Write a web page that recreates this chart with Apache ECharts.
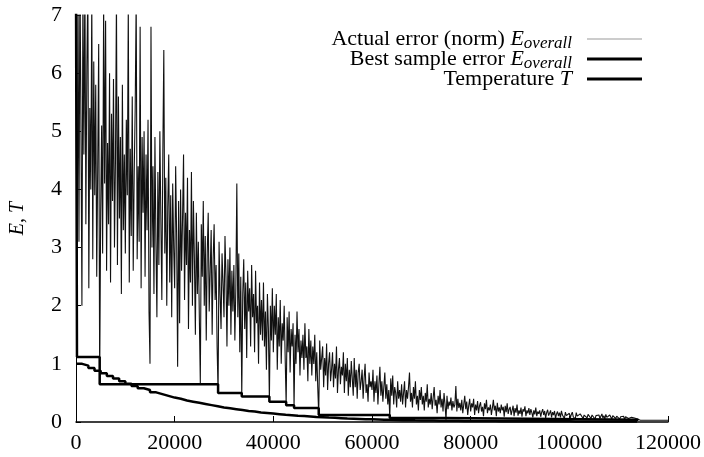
<!DOCTYPE html>
<html>
<head>
<meta charset="utf-8">
<script src="https://cdn.jsdelivr.net/npm/echarts@6/dist/echarts.min.js"></script>
<style>html,body{margin:0;padding:0;background:#fff}#c{width:704px;height:457px}</style>
</head>
<body>
<div id="c"></div>
<script>
// tick labels
const xTicks = [0, 20000, 40000, 60000, 80000, 100000, 120000];
const yTicks = [0, 1, 2, 3, 4, 5, 6, 7];

// Actual error (norm), one sample every 200 iterations starting at 0
const actualStep = 200;
const actualErr = [
  7.6, 1.12, 7.5, 3.1, 7.8, 5.2, 2.0, 7.4, 4.6, 7.7,
  3.4, 6.1, 7.5, 2.3, 5.4, 4.0, 7.3, 2.8, 6.2, 3.9,
  5.8, 2.5, 4.4, 6.5, 0.65, 3.6, 5.1, 2.9, 7.2, 4.1,
  6.9, 2.6, 4.8, 3.4, 6.0, 2.4, 5.3, 3.8, 5.9, 3.0,
  4.5, 7.3, 2.7, 5.6, 3.5, 4.9, 2.2, 5.8, 3.3, 4.6,
  2.9, 5.2, 3.9, 7.2, 2.4, 4.7, 3.2, 5.6, 2.6, 4.3,
  5.4, 7.3, 2.8, 4.4, 3.1, 6.8, 2.3, 4.9, 3.6, 5.0,
  2.5, 4.6, 3.3, 5.2, 1.9, 1.0, 6.8, 3.0, 4.4, 2.2,
  4.9, 3.1, 1.8, 4.3, 2.7, 5.0, 3.5, 2.1, 4.6, 6.4,
  2.9, 4.2, 2.0, 3.7, 4.6, 2.4, 3.9, 1.8, 4.1, 3.0,
  2.3, 4.4, 3.2, 0.95, 3.8, 1.7, 4.0, 2.6, 3.5, 4.6,
  2.1, 3.6, 2.7, 4.2, 1.6, 3.3, 2.4, 4.3, 2.0, 3.8,
  2.8, 1.5, 3.6, 2.2, 3.1, 1.8, 0.66, 3.4, 2.5, 3.8,
  2.0, 3.2, 1.4, 2.9, 3.6, 1.9, 2.6, 3.3, 1.5, 2.8,
  3.4, 2.1, 2.7, 1.3, 0.5, 3.1, 2.2, 1.6, 2.9, 2.4,
  1.8, 3.2, 2.5, 1.3, 2.8, 2.0, 3.0, 1.5, 2.6, 1.9,
  2.7, 1.4, 2.3, 4.1, 1.8, 2.9, 1.2, 2.5, 0.44, 2.2,
  2.8, 1.6, 2.4, 1.1, 2.6, 1.9, 2.3, 1.3, 2.7, 1.8,
  2.2, 1.2, 2.6, 1.7, 2.0, 1.0, 2.4, 1.5, 2.1, 1.4,
  2.4, 1.3, 1.9, 0.9, 2.2, 1.6, 0.35, 2.0, 1.4, 2.3,
  1.2, 2.0, 1.5, 2.2, 0.9, 1.8, 1.3, 2.1, 1.0, 1.7,
  1.4, 2.0, 1.1, 0.29, 1.8, 1.2, 1.9, 0.85, 1.6, 1.3,
  1.7, 0.24, 1.5, 1.0, 1.9, 1.2, 1.6, 0.8, 1.4, 1.1,
  1.5, 0.9, 1.7, 1.1, 1.3, 0.7, 1.6, 1.0, 1.4, 0.8,
  1.3, 1.0, 1.5, 0.7, 1.2, 0.6, 0.12, 1.4, 0.9, 1.1,
  1.3, 0.6, 1.1, 0.8, 1.35, 0.55, 1.0, 1.2, 0.7, 0.9,
  1.2, 0.6, 1.0, 0.75, 1.3, 0.5, 0.9, 1.1, 0.65, 0.95,
  0.8, 1.2, 0.5, 1.0, 0.7, 1.1, 0.45, 0.9, 0.6, 1.05,
  0.75, 0.45, 1.1, 0.6, 0.9, 0.4, 0.85, 1.0, 0.55, 0.7,
  0.9, 0.4, 0.75, 1.0, 0.5, 0.65, 0.35, 0.85, 0.6, 0.7,
  0.55, 0.9, 0.35, 0.7, 0.5, 0.8, 0.3, 0.65, 0.95, 0.45,
  0.7, 0.35, 0.6, 0.85, 0.4, 0.65, 0.3, 0.55, 0.07, 0.75,
  0.45, 0.8, 0.3, 0.6, 0.5, 0.25, 0.7, 0.4, 0.55, 0.35,
  0.65, 0.3, 0.5, 0.7, 0.25, 0.55, 0.4, 0.6, 0.85, 0.35,
  0.5, 0.25, 0.6, 0.4, 0.7, 0.3, 0.45, 0.2, 0.55, 0.38,
  0.6, 0.3, 0.45, 0.2, 0.5, 0.35, 0.65, 0.25, 0.4, 0.3,
  0.5, 0.22, 0.42, 0.6, 0.28, 0.38, 0.15, 0.45, 0.3, 0.55,
  0.25, 0.4, 0.18, 0.5, 0.3, 0.04, 0.45, 0.22, 0.35, 0.28,
  0.42, 0.2, 0.36, 0.25, 0.3, 0.62, 0.18, 0.4, 0.24, 0.33,
  0.2, 0.38, 0.15, 0.3, 0.45, 0.22, 0.35, 0.12, 0.28, 0.4,
  0.18, 0.32, 0.25, 0.4, 0.12, 0.3, 0.2, 0.36, 0.15, 0.28,
  0.34, 0.18, 0.26, 0.1, 0.32, 0.22, 0.38, 0.15, 0.25, 0.2,
  0.3, 0.12, 0.24, 0.38, 0.2, 0.28, 0.1, 0.33, 0.18, 0.25,
  0.15, 0.3, 0.2, 0.26, 0.09, 0.28, 0.17, 0.32, 0.14, 0.22,
  0.26, 0.12, 0.2, 0.28, 0.1, 0.24, 0.16, 0.3, 0.11, 0.2,
  0.14, 0.25, 0.09, 0.22, 0.18, 0.27, 0.1, 0.2, 0.15, 0.24,
  0.12, 0.22, 0.16, 0.08, 0.2, 0.13, 0.25, 0.1, 0.18, 0.14,
  0.2, 0.09, 0.17, 0.22, 0.12, 0.19, 0.07, 0.16, 0.21, 0.11,
  0.15, 0.2, 0.08, 0.17, 0.12, 0.19, 0.06, 0.14, 0.18, 0.1,
  0.16, 0.08, 0.19, 0.12, 0.15, 0.06, 0.17, 0.11, 0.14, 0.09,
  0.15, 0.07, 0.13, 0.17, 0.09, 0.12, 0.05, 0.16, 0.1, 0.13,
  0.08, 0.14, 0.11, 0.16, 0.06, 0.12, 0.09, 0.15, 0.07, 0.13,
  0.1, 0.15, 0.06, 0.12, 0.09, 0.14, 0.05, 0.11, 0.13, 0.08,
  0.12, 0.06, 0.1, 0.14, 0.07, 0.11, 0.05, 0.13, 0.08, 0.1,
  0.07, 0.12, 0.09, 0.05, 0.11, 0.08, 0.13, 0.06, 0.1, 0.07,
  0.11, 0.05, 0.09, 0.12, 0.06, 0.1, 0.04, 0.09, 0.07, 0.11,
  0.06, 0.09, 0.05, 0.08, 0.1, 0.05, 0.07, 0.04, 0.06, 0.05,
  0.04, 0.03, 0.03, 0.03, 0.03, 0.03, 0.03, 0.03, 0.03, 0.03,
  0.03, 0.03, 0.03, 0.03, 0.03, 0.03, 0.03, 0.03, 0.03, 0.03,
  0.03, 0.03, 0.03, 0.03, 0.03, 0.03, 0.03, 0.03, 0.03, 0.03,
  0.03
];

// Best sample error: iterations where the best value changes, and the new value
const bestX = [0, 200, 4800, 28800, 33600, 39200, 42600, 44200, 49200, 63600, 75000, 114000];
const bestY = [7.5, 1.12, 0.65, 0.50, 0.44, 0.35, 0.29, 0.24, 0.12, 0.07, 0.04, 0.04];

// Temperature, one value every 1250 iterations starting at 0
const tempStep = 1250;
const temperature = [
  1.00, 0.97, 0.93, 0.88, 0.84, 0.79, 0.75, 0.70, 0.66, 0.62,
  0.58, 0.55, 0.51, 0.48, 0.45, 0.42, 0.40, 0.37, 0.35, 0.33,
  0.31, 0.29, 0.27, 0.25, 0.235, 0.22, 0.205, 0.19, 0.18, 0.165,
  0.155, 0.145, 0.135, 0.125, 0.117, 0.109, 0.102, 0.095, 0.088, 0.082,
  0.076, 0.071, 0.066, 0.061, 0.057, 0.053, 0.049, 0.046, 0.043, 0.040,
  0.037, 0.034, 0.032, 0.030, 0.028, 0.027, 0.025, 0.024, 0.023, 0.022,
  0.021, 0.020, 0.019, 0.018, 0.018, 0.017, 0.016, 0.016, 0.015, 0.015,
  0.014, 0.014, 0.013, 0.013, 0.012, 0.012, 0.012, 0.011, 0.011, 0.011,
  0.010, 0.010, 0.010, 0.010, 0.010, 0.010, 0.010, 0.010, 0.010, 0.010,
  0.010, 0.010
];

const seriesNames = ['Actual error (norm)', 'Best sample error', 'Temperature'];
const legendLabels = [
  '{n|Actual error (norm) }{e|E}{s|overall}',
  '{n|Best sample error }{e|E}{s|overall}',
  '{n|Temperature }{e|T}'
];

const actualData = actualErr.map((v, i) => [i * actualStep, v]);
const bestData = bestX.map((x, i) => [x, bestY[i]]);
const tempData = temperature.map((v, i) => [i * tempStep, v]);

const serif = '"Liberation Serif", "DejaVu Serif", serif';
const rich = {
  n: { fontFamily: serif, fontSize: 22, color: '#000' },
  e: { fontFamily: serif, fontSize: 22, fontStyle: 'italic', color: '#000' },
  s: { fontFamily: serif, fontSize: 17, fontStyle: 'italic', color: '#000', padding: [9, 0, 0, 0] }
};

function mkLegend(idx, top, h, color) {
  return {
    data: [{ name: seriesNames[idx], itemStyle: { color: color } }],
    right: 57, top: top, align: 'right', orient: 'vertical',
    icon: 'rect', itemWidth: 55, itemHeight: h,
    selectedMode: false,
    formatter: () => legendLabels[idx],
    textStyle: { rich: rich, padding: [0, 10, 0, 0] }
  };
}

const chart = echarts.init(document.getElementById('c'), null, { renderer: 'canvas' });
chart.setOption({
  animation: false,
  backgroundColor: '#fff',
  grid: { left: 72, right: 32, top: 15, bottom: 35, containLabel: false },
  legend: [
    mkLegend(0, 23, 1, '#999'),
    mkLegend(1, 43, 3, '#000'),
    mkLegend(2, 63, 3, '#000')
  ],
  xAxis: {
    type: 'value', min: 0, max: 120000, interval: 20000,
    axisLine: { show: true, lineStyle: { color: '#000', width: 1.5 } },
    axisTick: { show: true, inside: true, length: 6, lineStyle: { color: '#000' } },
    splitLine: { show: false },
    axisLabel: { color: '#000', fontFamily: serif, fontSize: 22, margin: 10,
      formatter: v => xTicks.includes(v) ? String(v) : '' }
  },
  yAxis: {
    type: 'value', min: 0, max: 7, interval: 1,
    name: 'E, T', nameLocation: 'middle', nameGap: 48,
    nameTextStyle: { color: '#000', fontFamily: serif, fontSize: 20, fontStyle: 'italic' },
    axisLine: { show: true, lineStyle: { color: '#000', width: 1 } },
    axisTick: { show: true, inside: true, length: 5, lineStyle: { color: '#000' } },
    splitLine: { show: false },
    axisLabel: { color: '#000', fontFamily: serif, fontSize: 22, margin: 14,
      formatter: v => yTicks.includes(v) ? String(v) : '' }
  },
  series: [
    { name: seriesNames[0], type: 'line', data: actualData, showSymbol: false, symbol: 'none',
      lineStyle: { color: '#111', width: 1.1 }, itemStyle: { color: '#111' }, clip: true, z: 1 },
    { name: seriesNames[1], type: 'line', data: bestData, step: 'end', showSymbol: false, symbol: 'none',
      lineStyle: { color: '#000', width: 2.5 }, itemStyle: { color: '#000' }, clip: true, z: 2 },
    { name: seriesNames[2], type: 'line', data: tempData, step: 'end', showSymbol: false, symbol: 'none',
      lineStyle: { color: '#000', width: 2.5 }, itemStyle: { color: '#000' }, clip: true, z: 3 }
  ]
});
</script>
</body>
</html>
